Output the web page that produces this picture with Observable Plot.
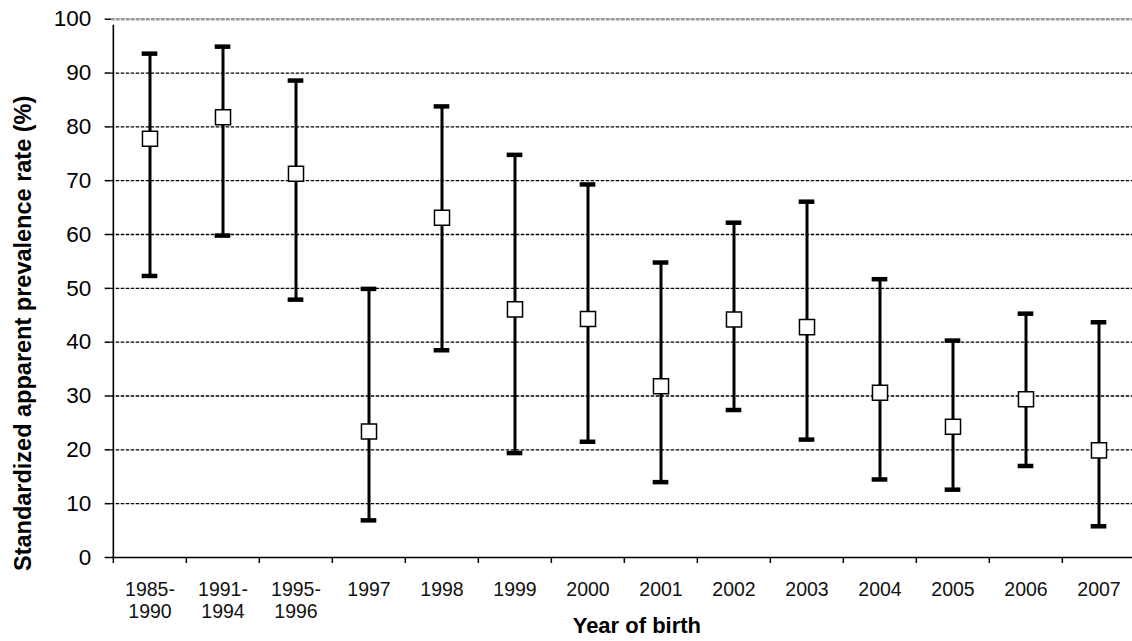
<!DOCTYPE html>
<html>
<head>
<meta charset="utf-8">
<script src="https://cdn.jsdelivr.net/npm/d3@7"></script>
<script src="https://cdn.jsdelivr.net/npm/@observablehq/plot@0.6"></script>
<style>
  html, body { margin: 0; padding: 0; background: #fff; overflow: hidden; }
  #chart svg { display: block; }
</style>
</head>
<body>
<div id="chart"></div>
<script>
const categories = ["1985-\n1990", "1991-\n1994", "1995-\n1996", "1997", "1998", "1999", "2000", "2001", "2002", "2003", "2004", "2005", "2006", "2007"];
const estimate = [77.8, 81.8, 71.3, 23.4, 63.1, 46.1, 44.3, 31.8, 44.2, 42.8, 30.6, 24.3, 29.4, 19.9];
const lower = [52.3, 59.8, 47.9, 6.9, 38.5, 19.4, 21.5, 14.0, 27.4, 21.9, 14.5, 12.6, 17.0, 5.8];
const upper = [93.6, 94.9, 88.6, 49.9, 83.8, 74.8, 69.3, 54.8, 62.2, 66.1, 51.7, 40.3, 45.3, 43.7];
const yTicks = [0, 10, 20, 30, 40, 50, 60, 70, 80, 90, 100];
const yLabel = "Standardized apparent prevalence rate (%)";
const xLabel = "Year of birth";

const data = categories.map((c, i) => ({cat: c, est: estimate[i], lo: lower[i], hi: upper[i]}));

const x0 = 110.7, x1 = 1137.3;
const bw = (x1 - x0) / categories.length;
const capW = 16;

const chart = Plot.plot({
  width: 1132,
  height: 641,
  marginLeft: x0,
  marginRight: 0,
  marginTop: 18.7,
  marginBottom: 84,
  style: {fontFamily: "'Liberation Sans', Arial, sans-serif", background: "#fff", color: "#000"},
  x: {type: "band", domain: categories, range: [x0, x1], paddingInner: 0, paddingOuter: 0},
  y: {domain: [0, 100], range: [557, 18.7]},
  marks: [
    // gridlines
    Plot.ruleY(yTicks.filter(d => d > 0 && d < 100), {stroke: "#000", strokeWidth: 1.3, strokeDasharray: "3.5,1.5"}),
    Plot.ruleY([100], {stroke: "#999", strokeWidth: 2.5, strokeDasharray: "4,1"}),
    // x axis line
    Plot.ruleY([0], {stroke: "#000", strokeWidth: 1.6}),
    // category boundary ticks
    Plot.ruleX(categories, {x: d => d, y1: 0, y2: 0, insetBottom: -6, dx: -bw / 2, stroke: "#000", strokeWidth: 1.5}),
    // y axis line
    Plot.ruleX([categories[0]], {x: d => d, y1: 0, y2: 100, insetBottom: -6, dx: -bw / 2, stroke: "#000", strokeWidth: 1.6}),
    Plot.axisY({ticks: yTicks, tickSize: 6, tickPadding: 14, fontSize: 22.5, label: null, stroke: "#000", strokeWidth: 1.5, fill: "#000"}),
    Plot.axisX({tickSize: 0, tickPadding: 23, fontSize: 19.5, lineHeight: 1.13, label: null, fill: "#111"}),
    // error bars
    Plot.ruleX(data, {x: "cat", y1: "lo", y2: "hi", stroke: "#000", strokeWidth: 3}),
    Plot.tickY(data, {x: "cat", y: "hi", stroke: "#000", strokeWidth: 4.5, insetLeft: (bw - capW) / 2, insetRight: (bw - capW) / 2}),
    Plot.tickY(data, {x: "cat", y: "lo", stroke: "#000", strokeWidth: 4.5, insetLeft: (bw - capW) / 2, insetRight: (bw - capW) / 2}),
    // estimates
    Plot.dot(data, {x: "cat", y: "est", symbol: "square", r: 8.5, fill: "#fff", stroke: "#000", strokeWidth: 1.5}),
    // axis titles
    Plot.text([yLabel], {frameAnchor: "left", text: d => d, rotate: -90, dx: -88, dy: 45, fontSize: 23.5, fontWeight: "bold", fill: "#000", textAnchor: "middle", lineAnchor: "middle"}),
    Plot.text([xLabel], {frameAnchor: "bottom", text: d => d, dx: 15, dy: 68, fontSize: 22, fontWeight: "bold", fill: "#000", textAnchor: "middle", lineAnchor: "middle"})
  ]
});
document.getElementById("chart").appendChild(chart);
</script>
</body>
</html>
